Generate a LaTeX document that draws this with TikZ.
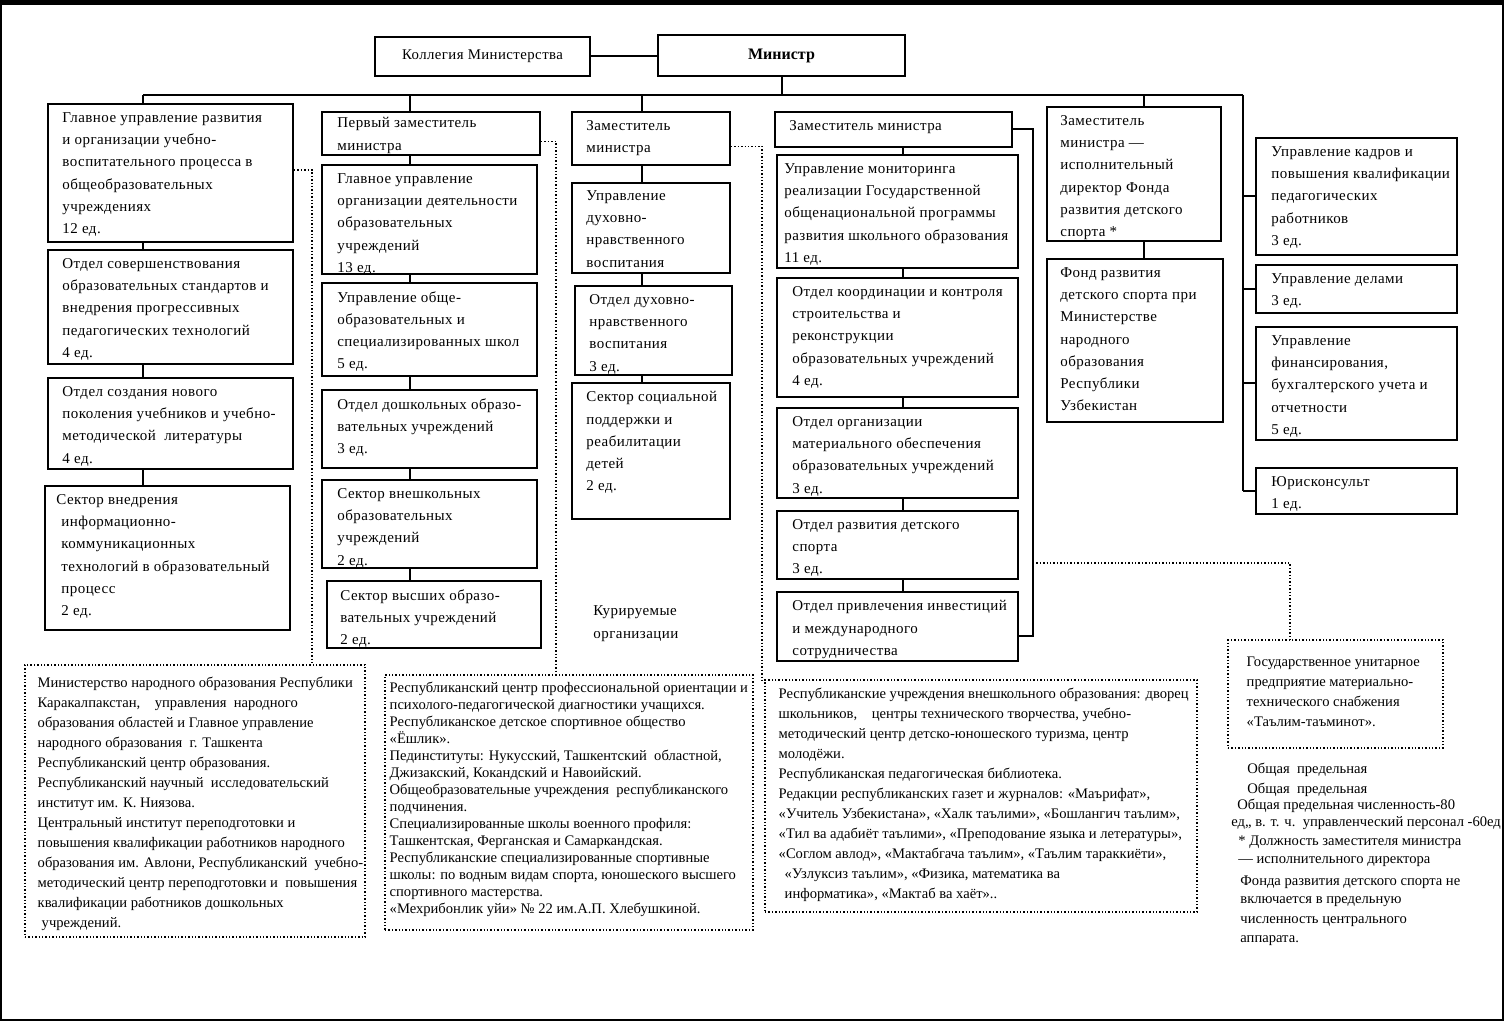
\documentclass[tikz,border=0pt]{standalone}
\usepackage{fontspec}
\setmainfont{Liberation Serif}
\newfontfamily\unitfont[LetterSpace=3]{Liberation Serif}
\tikzset{
  unit/.style={draw, line width=1pt, inner sep=0pt},
  unit text/.style={anchor=north west, inner sep=0pt, align=left, font=\unitfont\fontsize{7.5}{11.1}\selectfont},
  orgs box/.style={draw, densely dotted, line width=0.7pt, inner sep=0pt},
  orgs text/.style={anchor=north west, inner sep=0pt, align=left, font=\fontsize{7.3}{10}\selectfont},
  link/.style={line width=1pt},
  supervises/.style={densely dotted, line width=0.7pt},
}
% [text options] name, x1, y1, x2, y2, text  (pixel coordinates)
\newcommand\orgunit[7][]{%
  \node[unit, minimum width={(#5-#3)*0.5pt}, minimum height={(#6-#4)*0.5pt}] (#2) at ({(#3+#5)/2},{(#4+#6)/2}) {};
  \node[unit text, #1] (#2-t) at ([xshift=7.5pt, yshift=-4.6pt]#2.north west) {#7};
}
% [text style] name, x1, y1, x2, y2, dx, dy, text
\newcommand\orglist[9][]{%
  \node[orgs box, minimum width={(#5-#3)*0.5pt}, minimum height={(#6-#4)*0.5pt}] (#2) at ({(#3+#5)/2},{(#4+#6)/2}) {};
  \node[orgs text, #1] (#2-t) at ([xshift=#7*0.5pt, yshift=-#8*0.5pt]#2.north west) {#9};
}

\begin{document}
\begin{tikzpicture}[x=0.5pt, y=-0.5pt]
\useasboundingbox (0,0) rectangle (1504,1021);
\draw[line width=1pt] (1,1) rectangle (1503,1020);
\draw[line width=2.5pt] (0,2.5) -- (1504,2.5);

% top level
\node[unit, minimum width=107.5pt, minimum height=19.5pt, font=\unitfont\fontsize{7.4}{9}\selectfont] (board) at (482.5,56.5) {Коллегия Министерства};
\node[unit, minimum width=123.5pt, minimum height=20.5pt, font=\bfseries\fontsize{8}{10}\selectfont] (minister) at (781.5,55.5) {Министр};
\draw[link] (board.east) -- (board.east -| minister.west);

\coordinate (busL) at (143,95);
\coordinate (busR) at (1243,95);
\coordinate (col1) at (143,95);
\coordinate (col2) at (410,95);
\coordinate (col3) at (642,95);
\coordinate (col4) at (903,95);
\coordinate (col5) at (1144,95);
\draw[link] (minister.south) -- (minister.south |- busL);
\draw[link] (busL) -- (busR);

% column 1
\orgunit{gu1}{48}{104}{293}{242}{Главное управление развития\\и организации учебно-\\воспитательного процесса в\\общеобразовательных\\учреждениях\\12 ед.}
\orgunit{od1}{48}{250}{293}{364}{Отдел совершенствования\\образовательных стандартов и\\внедрения прогрессивных\\педагогических технологий\\4 ед.}
\orgunit{od2}{48}{378}{293}{469}{Отдел создания нового\\поколения учебников и учебно-\\методической\ \ литературы\\4 ед.}
\orgunit[xshift=-1.5pt]{sec1}{45}{486}{290}{630}{Сектор внедрения\\\hspace*{2.5pt}информационно-\\\hspace*{2.5pt}коммуникационных\\\hspace*{2.5pt}технологий в образовательный\\\hspace*{2.5pt}процесс\\\hspace*{2.5pt}2 ед.}

% column 2
\orgunit[xshift=0.5pt, yshift=1.5pt]{fd}{322}{112}{540}{155}{Первый заместитель\\министра}
\orgunit[xshift=0.5pt]{gu2}{322}{165}{537}{274}{Главное управление\\организации деятельности\\образовательных\\учреждений\\13 ед.}
\orgunit[xshift=0.5pt]{up2}{322}{283}{537}{376}{Управление обще-\\образовательных и\\специализированных школ\\5 ед.}
\orgunit[xshift=0.5pt]{od3}{322}{390}{537}{468}{Отдел дошкольных образо-\\вательных учреждений\\3 ед.}
\orgunit[xshift=0.5pt]{sec2}{322}{480}{537}{568}{Сектор внешкольных\\образовательных\\учреждений\\2 ед.}
\orgunit[xshift=-0.5pt]{sec3}{327}{581}{541}{648}{Сектор высших образо-\\вательных учреждений\\2 ед.}

% column 3
\orgunit{dep2}{572}{112}{730}{165}{Заместитель\\министра}
\orgunit[yshift=0.5pt]{up3}{572}{183}{730}{273}{Управление\\духовно-\\нравственного\\воспитания}
\orgunit{od4}{575}{286}{732}{375}{Отдел духовно-\\нравственного\\воспитания\\3 ед.}
\orgunit{sec4}{572}{383}{730}{519}{Сектор социальной\\поддержки и\\реабилитации\\детей\\2 ед.}
\node[unit text, font=\unitfont\fontsize{7.5}{11.5}\selectfont] (curated) at (593,605) {Курируемые\\организации};

% column 4
\orgunit{dep3}{775}{112}{1012}{147}{Заместитель министра}
\orgunit[xshift=-3.5pt]{up4}{777}{155}{1018}{268}{Управление мониторинга\\реализации Государственной\\общенациональной программы\\развития школьного образования\\11 ед.}
\orgunit[xshift=0.5pt]{od5}{777}{278}{1018}{397}{Отдел координации и контроля\\строительства и\\реконструкции\\образовательных учреждений\\4 ед.}
\orgunit[xshift=0.5pt]{od6}{777}{408}{1018}{498}{Отдел организации\\материального обеспечения\\образовательных учреждений\\3 ед.}
\orgunit[xshift=0.5pt]{od7}{777}{511}{1018}{579}{Отдел развития детского\\спорта\\3 ед.}
\orgunit[xshift=0.5pt]{od8}{777}{592}{1018}{661}{Отдел привлечения инвестиций\\и международного\\сотрудничества}

% column 5
\orgunit[xshift=-0.5pt]{dep4}{1047}{107}{1221}{241}{Заместитель\\министра —\\исполнительный\\директор Фонда\\развития детского\\спорта *}
\orgunit[xshift=-0.5pt]{fund}{1047}{259}{1223}{422}{Фонд развития\\детского спорта при\\Министерстве\\народного\\образования\\Республики\\Узбекистан}

% staff units
\orgunit[xshift=0.5pt]{kadr}{1256}{138}{1457}{255}{Управление кадров и\\повышения квалификации\\педагогических\\работников\\3 ед.}
\orgunit[xshift=0.5pt]{del}{1256}{265}{1457}{313}{Управление делами\\3 ед.}
\orgunit[xshift=0.5pt]{fin}{1256}{327}{1457}{440}{Управление\\финансирования,\\бухгалтерского учета и\\отчетности\\5 ед.}
\orgunit[xshift=0.5pt]{jur}{1256}{468}{1457}{514}{Юрисконсульт\\1 ед.}

% connectors
\draw[link] (col1) -- (col1 |- gu1.north);
\foreach \a/\b in {gu1/od1, od1/od2, od2/sec1}
  \draw[link] (col1 |- \a.south) -- (col1 |- \b.north);
\draw[link] (col2) -- (col2 |- fd.north);
\foreach \a/\b in {fd/gu2, gu2/up2, up2/od3, od3/sec2, sec2/sec3}
  \draw[link] (col2 |- \a.south) -- (col2 |- \b.north);
\draw[link] (col3) -- (col3 |- dep2.north);
\foreach \a/\b in {dep2/up3, up3/od4, od4/sec4}
  \draw[link] (col3 |- \a.south) -- (col3 |- \b.north);
\foreach \a/\b in {dep3/up4, up4/od5, od5/od6, od6/od7, od7/od8}
  \draw[link] (col4 |- \a.south) -- (col4 |- \b.north);
\draw[link] (col5) -- (col5 |- dep4.north);
\draw[link] (col5 |- dep4.south) -- (col5 |- fund.north);
\draw[link] (busR) -- (busR |- jur.west);
\foreach \u in {kadr, del, fin, jur}
  \draw[link] (busR |- \u.west) -- (\u.west);
\coordinate (brk) at (1033,563);
\draw[link] (dep3.east) -| (brk) |- ([yshift=-4.5pt]od8.east);

% supervised organisations
\orglist{orgs1}{25}{665}{365}{937}{13}{12}{Министерство народного образования Республики\\Каракалпакстан, \ \ \ управления\ \ народного\\образования областей и Главное управление\\народного образования\ \ г. Ташкента\\Республиканский центр образования.\\Республиканский научный\ \ исследовательский\\институт им. К. Ниязова.\\Центральный институт переподготовки и\\повышения квалификации работников народного\\образования им. Авлони, Республиканский\ \ учебно-\\методический центр переподготовки и\ \ повышения\\квалификации работников дошкольных\\\hspace*{2pt}учреждений.}
\orglist[font=\fontsize{7.3}{8.5}\selectfont]{orgs2}{385}{675}{753}{930}{5}{7}{Республиканский центр профессиональной ориентации и\\психолого-педагогической диагностики учащихся.\\Республиканское детское спортивное общество\\«Ёшлик».\\Пединституты: Нукусский, Ташкентский\ \ областной,\\Джизакский, Кокандский и Навоийский.\\Общеобразовательные учреждения\ \ республиканского\\подчинения.\\Специализированные школы военного профиля:\\Ташкентская, Ферганская и Самаркандская.\\Республиканские специализированные спортивные\\школы: по водным видам спорта, юношеского высшего\\спортивного мастерства.\\«Мехрибонлик уйи» № 22 им.А.П. Хлебушкиной.}
\orglist{orgs3}{765}{680}{1197}{912}{14}{8}{Республиканские учреждения внешкольного образования: дворец\\школьников, \ \ \ центры технического творчества, учебно-\\методический центр детско-юношеского туризма, центр\\молодёжи.\\Республиканская педагогическая библиотека.\\Редакции республиканских газет и журналов: «Маърифат»,\\«Учитель Узбекистана», «Халк таълими», «Бошлангич таълим»,\\«Тил ва адабиёт таълими», «Преподование языка и летературы»,\\«Соглом авлод», «Мактабгача таълим», «Таълим тараккиёти»,\\\hspace*{3pt}«Узлуксиз таълим», «Физика, математика ва\\\hspace*{3pt}информатика», «Мактаб ва хаёт»..}
\orglist{orgs4}{1228}{640}{1443}{748}{19}{17}{Государственное унитарное\\предприятие материально-\\технического снабжения\\«Таълим-таъминот».}

\coordinate (sup1) at (312,665);
\coordinate (sup2) at (556,675);
\coordinate (sup3) at (762,680);
\coordinate (sup4) at (1290,640);
\draw[supervises] ([yshift=1.5pt]gu1.east) -| (sup1);
\draw[supervises] ([yshift=-4pt]fd.east) -| (sup2);
\draw[supervises] ([yshift=-4pt]dep2.east) -| (sup3);
\draw[supervises] (brk) -| (sup4);

% notes
\foreach \y/\x/\t [count=\i] in {770/1247/{Общая\ \ предельная}, 790/1247/{Общая\ \ предельная},
    806/1237/{Общая предельная численность-80}, 823/1231/{ед,, в. т. ч.\ \ управленческий персонал -60ед},
    842/1238/{* Должность заместителя министра}, 862/1238/{— исполнительного директора},
    882/1240/{Фонда развития детского спорта не}, 902/1240/{включается в предельную},
    922/1240/{численность центрального}, 941/1240/{аппарата.}}
  \node[anchor=west, inner sep=0pt, font=\fontsize{7.3}{10}\selectfont] (note\i) at (\x,\y) {\t};
\end{tikzpicture}
\end{document}
